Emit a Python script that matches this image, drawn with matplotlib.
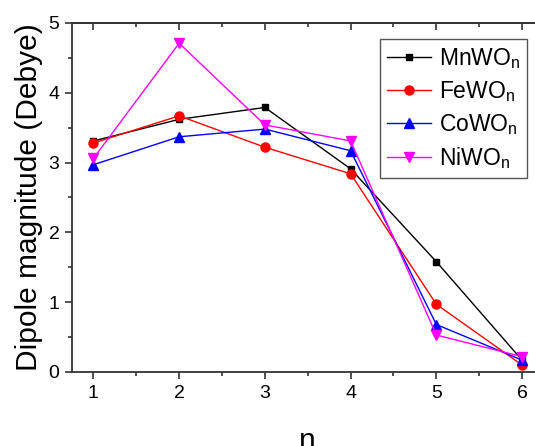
import matplotlib
matplotlib.use('Agg')
import matplotlib.pyplot as plt
from matplotlib.ticker import MultipleLocator

plt.rcParams['font.family'] = ['Liberation Sans', 'DejaVu Sans']
plt.rcParams['mathtext.fontset'] = 'custom'
plt.rcParams['mathtext.rm'] = 'Liberation Sans'

# data
n = [1, 2, 3, 4, 5, 6]
mnwo = [3.31, 3.62, 3.79, 2.91, 1.58, 0.17]
fewo = [3.28, 3.67, 3.22, 2.84, 0.97, 0.10]
cowo = [2.97, 3.37, 3.48, 3.17, 0.68, 0.17]
niwo = [3.06, 4.71, 3.54, 3.31, 0.53, 0.22]

labels = ['MnWO$_\\mathregular{n}$', 'FeWO$_\\mathregular{n}$',
          'CoWO$_\\mathregular{n}$', 'NiWO$_\\mathregular{n}$']
colors = ['black', '#FF0000', '#0000FF', '#FF00FF']
markers = ['s', 'o', '^', 'v']
msizes = [5, 6.5, 7, 7.5]

fig = plt.figure(figsize=(5.35, 4.46), dpi=100)
ax = fig.add_axes([72/535, 1-372/446, 471.5/535, 349/446])

for y, lab, c, m, ms in zip([mnwo, fewo, cowo, niwo], labels, colors, markers, msizes):
    ax.plot(n, y, color=c, marker=m, markersize=ms, linewidth=1.0, label=lab)

ax.set_xlim(0.75, 6.25)
ax.set_ylim(0, 5)
ax.xaxis.set_major_locator(MultipleLocator(1))
ax.xaxis.set_minor_locator(MultipleLocator(0.5))
ax.yaxis.set_major_locator(MultipleLocator(1))
ax.yaxis.set_minor_locator(MultipleLocator(0.5))

spc = '#333333'
for s in ax.spines.values():
    s.set_color(spc)
    s.set_linewidth(1.3)
ax.spines['right'].set_visible(False)

ax.tick_params(which='major', direction='out', length=5, width=1.2, color=spc,
               labelsize=14, pad=4)
ax.tick_params(which='minor', direction='out', length=3, width=1.2, color=spc)

top = ax.secondary_xaxis('top')
top.xaxis.set_major_locator(MultipleLocator(1))
top.xaxis.set_minor_locator(MultipleLocator(0.5))
top.tick_params(which='major', direction='in', length=5, width=1.2, color=spc, labeltop=False)
top.tick_params(which='minor', direction='in', length=3, width=1.2, color=spc)
top.spines['top'].set_color(spc)
top.spines['top'].set_linewidth(1.3)

ax.set_ylabel('Dipole magnitude (Debye)', fontsize=21.5, labelpad=4)
ax.set_xlabel('n', fontsize=21.5, labelpad=18.5)

leg = ax.legend(loc='upper right', bbox_to_anchor=(527/535, 1-39/446),
                bbox_transform=fig.transFigure, borderaxespad=0, fontsize=16.5,
                fancybox=False, framealpha=1, edgecolor='#555555',
                handlelength=1.9, handletextpad=0.35, labelspacing=0.36,
                borderpad=0.3)
leg.get_frame().set_linewidth(1.0)

fig.savefig('out.png', dpi=100)
